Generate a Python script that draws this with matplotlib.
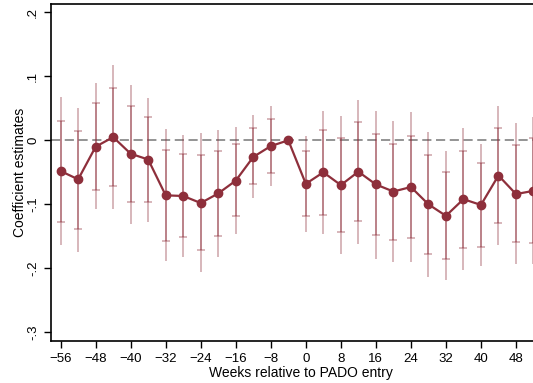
import numpy as np
import matplotlib
matplotlib.use("Agg")
import matplotlib.pyplot as plt

plt.rcParams['font.family'] = ['Liberation Sans', 'DejaVu Sans']

weeks = np.arange(-56, 56, 4)
coef = [-0.048, -0.061, -0.010, 0.005, -0.021, -0.030, -0.086, -0.087, -0.098,
        -0.083, -0.063, -0.026, -0.009, 0.0, -0.068, -0.050, -0.070, -0.049,
        -0.069, -0.080, -0.073, -0.100, -0.118, -0.092, -0.101, -0.055,
        -0.084, -0.079]
# inner CI (with caps)
ci_lo = [-0.127, -0.138, -0.077, -0.072, -0.096, -0.096, -0.157, -0.151, -0.171,
         -0.150, -0.119, -0.069, -0.051, 0.0, -0.119, -0.116, -0.143, -0.126,
         -0.148, -0.155, -0.152, -0.177, -0.186, -0.168, -0.166, -0.129,
         -0.159, -0.161]
ci_hi = [0.030, 0.015, 0.058, 0.082, 0.053, 0.036, -0.015, -0.022, -0.023,
         -0.016, -0.005, 0.019, 0.033, 0.0, -0.016, 0.016, 0.004, 0.028,
         0.010, -0.005, 0.007, -0.023, -0.049, -0.016, -0.036, 0.019,
         -0.008, 0.003]
# outer CI (spikes)
sp_lo = [-0.163, -0.174, -0.108, -0.107, -0.131, -0.127, -0.189, -0.182, -0.205,
         -0.182, -0.146, -0.090, -0.071, 0.0, -0.143, -0.147, -0.178, -0.162,
         -0.185, -0.190, -0.190, -0.213, -0.218, -0.203, -0.197, -0.163,
         -0.194, -0.194]
sp_hi = [0.067, 0.050, 0.089, 0.117, 0.086, 0.066, 0.018, 0.008, 0.011,
         0.016, 0.021, 0.040, 0.053, 0.0, 0.007, 0.046, 0.038, 0.063,
         0.046, 0.030, 0.044, 0.013, -0.017, 0.020, -0.006, 0.054,
         0.027, 0.036]

coef = np.array(coef)
ci_lo, ci_hi = np.array(ci_lo), np.array(ci_hi)
sp_lo, sp_hi = np.array(sp_lo), np.array(sp_hi)
has_ci = weeks != -4

red = '#8e2f3b'

fig = plt.figure(figsize=(5.33, 3.83), dpi=100)
ax = fig.add_axes([51/533, 42/383, 500/533, 337/383])

ax.axhline(0, color='#777777', lw=1.1, ls=(0, (6, 3)), zorder=1)

ax.vlines(weeks[has_ci], sp_lo[has_ci], sp_hi[has_ci], color=red, alpha=0.35,
          lw=1.4, zorder=2)
ax.errorbar(weeks[has_ci], coef[has_ci],
            yerr=[coef[has_ci] - ci_lo[has_ci], ci_hi[has_ci] - coef[has_ci]],
            fmt='none', ecolor=red, alpha=0.45, elinewidth=1.2, capsize=3,
            capthick=1.1, zorder=2)
ax.plot(weeks, coef, color=red, lw=1.6, marker='o', ms=6, zorder=3)

ax.set_xlim(-58.2, 56)
ax.set_ylim(-0.3136, 0.213)
ax.set_xticks(np.arange(-56, 56, 8))
ax.set_yticks([-0.3, -0.2, -0.1, 0, 0.1, 0.2])
ax.set_yticklabels(['-.3', '-.2', '-.1', '0', '.1', '.2'], rotation=90, va='center')
ax.tick_params(labelsize=9.5, length=5, width=1, direction='out', colors='black')

for s in ['left', 'bottom', 'top']:
    ax.spines[s].set_linewidth(1.2)
ax.spines['right'].set_visible(False)

ax.set_xlabel('Weeks relative to PADO entry', fontsize=10, labelpad=1)
ax.set_ylabel('Coefficient estimates', fontsize=10, labelpad=0)

fig.savefig('out.png', dpi=100)
